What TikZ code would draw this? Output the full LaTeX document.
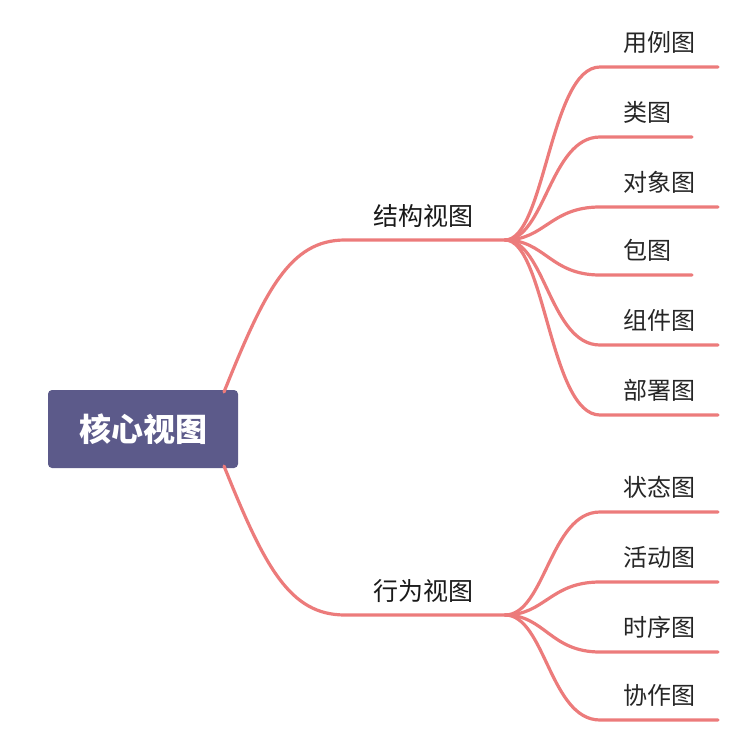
\documentclass[tikz,border=0pt]{standalone}
\usepackage{fontspec}
\newfontfamily\cjk{Noto Sans CJK SC}
\newfontfamily\cjkm{Noto Sans CJK SC Medium}
\definecolor{br}{HTML}{EC7B7B}
\definecolor{rootc}{HTML}{5C5A8A}
\begin{document}
\begin{tikzpicture}[x=1pt,y=-1pt,
  link/.style={draw=br,line width=3.2pt,line cap=round},
  lbl/.style={font=\cjk\fontsize{24}{28}\selectfont,text=black!85,inner sep=0pt},
  midlbl/.style={font=\cjk\fontsize{25}{29}\selectfont,text=black!90,inner sep=0pt},
  rootbox/.style={fill=rootc,rounded corners=4pt,minimum width=190pt,minimum height=78pt,text=white,font=\cjk\bfseries\fontsize{32}{36}\selectfont}]
\useasboundingbox (0,0) rectangle (739,742);
\node[rootbox] (root) at (143,429) {核心视图};
\coordinate (rt) at (224,392);
\coordinate (rb) at (224,466);
\coordinate (s) at (505,240);
\coordinate (b) at (505,615);
\draw[link] (rt) .. controls (265,290) and (290,240) .. (345,240) -- (s);
\draw[link] (rb) .. controls (265,568) and (290,615) .. (345,615) -- (b);
\node[midlbl] (n1) at (423,216) {结构视图};
\node[midlbl] (n2) at (423,591) {行为视图};
\foreach \y/\e/\t/\i in {67/718/用例图/a,137/692/类图/b,207/718/对象图/c,275/692/包图/d,345/718/组件图/e,415/718/部署图/f}{
  \coordinate (e\i) at (\e,\y);
  \draw[link] (s) .. controls (545,240) and (550,\y) .. (600,\y) -- (e\i);
  \node[lbl,anchor=west] (l\i) at (623,\y-25) {\t};
}
\foreach \y/\e/\t/\i in {512/718/状态图/g,582/718/活动图/h,652/718/时序图/k,720/718/协作图/m}{
  \coordinate (e\i) at (\e,\y);
  \draw[link] (b) .. controls (545,615) and (550,\y) .. (600,\y) -- (e\i);
  \node[lbl,anchor=west] (l\i) at (623,\y-25) {\t};
}
\end{tikzpicture}
\end{document}
